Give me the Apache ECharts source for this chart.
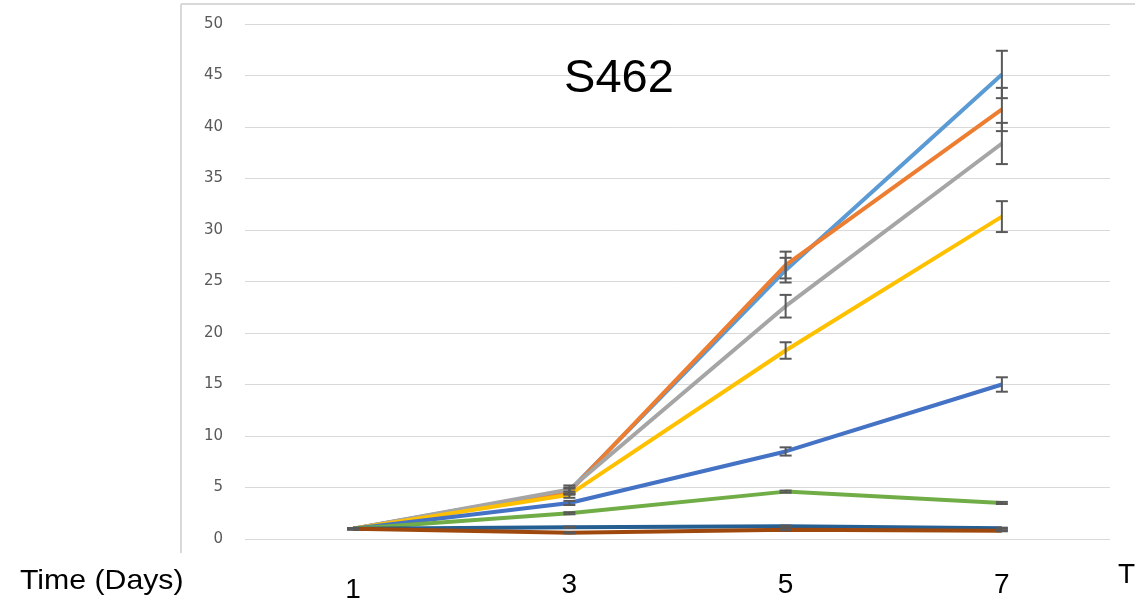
<!DOCTYPE html>
<html>
<head>
<meta charset="utf-8">
<script src="https://cdn.jsdelivr.net/npm/echarts@6/dist/echarts.min.js"></script>
<style>
html,body{margin:0;padding:0;background:#fff;}
#c{width:1135px;height:606px;}
</style>
</head>
<body>
<div id="c"></div>
<script>
const days = ['1', '3', '5', '7'];
const yTicks = [0, 5, 10, 15, 20, 25, 30, 35, 40, 45, 50];
const title = 'S462';
const xName = 'Time (Days)';

const lightBlue = [1, 4.7, 26.1, 45.1];
const lightBlueErr = [0.05, 0.3, 1.2, 2.3];
const orange = [1, 4.6, 26.6, 41.7];
const orangeErr = [0.05, 0.3, 1.3, 2.1];
const gray = [1, 4.8, 22.6, 38.4];
const grayErr = [0.05, 0.4, 1.1, 2.0];
const yellow = [1, 4.3, 18.3, 31.3];
const yellowErr = [0.05, 0.3, 0.8, 1.5];
const blue = [1, 3.5, 8.5, 15.0];
const blueErr = [0.05, 0.2, 0.4, 0.7];
const green = [1, 2.5, 4.6, 3.5];
const greenErr = [0.05, 0.1, 0.1, 0.1];
const darkBlue = [1, 1.15, 1.25, 1.05];
const darkBlueErr = [0.05, 0.05, 0.05, 0.05];
const brown = [1, 0.6, 0.9, 0.8];
const brownErr = [0.05, 0.05, 0.05, 0.05];

const seriesDefs = [
  {name: 'A', color: '#5B9BD5', values: lightBlue, errs: lightBlueErr},
  {name: 'B', color: '#ED7D31', values: orange, errs: orangeErr},
  {name: 'C', color: '#A5A5A5', values: gray, errs: grayErr},
  {name: 'D', color: '#FFC000', values: yellow, errs: yellowErr},
  {name: 'E', color: '#4472C4', values: blue, errs: blueErr},
  {name: 'F', color: '#70AD47', values: green, errs: greenErr},
  {name: 'G', color: '#255E91', values: darkBlue, errs: darkBlueErr},
  {name: 'H', color: '#9E480E', values: brown, errs: brownErr}
];

const series = [];
seriesDefs.forEach(function (d, i) {
  series.push({
    name: d.name,
    type: 'line',
    data: d.values,
    symbol: 'none',
    smooth: false,
    z: 2 + i * 0.01,
    lineStyle: {color: d.color, width: 4},
    itemStyle: {color: d.color},
    animation: false
  });
});
seriesDefs.forEach(function (d) {
  series.push({
    name: d.name + ' err',
    type: 'custom',
    z: 5,
    animation: false,
    data: d.values.map(function (v, k) { return [k, v, d.errs[k]]; }),
    renderItem: function (params, api) {
      const x = api.value(0), v = api.value(1), e = api.value(2);
      const hi = api.coord([x, v + e]);
      const lo = api.coord([x, v - e]);
      const hw = 6;
      const st = {stroke: '#595959', lineWidth: 2};
      return {
        type: 'group',
        children: [
          {type: 'line', shape: {x1: hi[0], y1: hi[1], x2: lo[0], y2: lo[1]}, style: st},
          {type: 'line', shape: {x1: hi[0] - hw, y1: hi[1], x2: hi[0] + hw, y2: hi[1]}, style: st},
          {type: 'line', shape: {x1: lo[0] - hw, y1: lo[1], x2: lo[0] + hw, y2: lo[1]}, style: st}
        ]
      };
    }
  });
});

const chart = echarts.init(document.getElementById('c'));
chart.setOption({
  backgroundColor: '#ffffff',
  animation: false,
  grid: {left: 245, right: 25, top: 24, bottom: 67, containLabel: false},
  title: {
    text: title,
    left: 614, top: 51, textAlign: 'center',
    textStyle: {fontFamily: 'Liberation Sans', fontSize: 47, fontWeight: 'normal', color: '#000000'}
  },
  xAxis: {
    type: 'category',
    data: days,
    boundaryGap: true,
    axisLine: {show: false},
    axisTick: {show: false},
    axisLabel: {
      margin: 32,
      fontFamily: 'Liberation Sans',
      fontSize: 28,
      color: '#000000',
      formatter: function (v) { return v === '1' ? '{low|' + v + '}' : v; },
      rich: {low: {fontFamily: 'Liberation Sans', fontSize: 28, color: '#000000', padding: [5, 0, 0, 0]}}
    },
    splitLine: {show: false}
  },
  yAxis: {
    type: 'value',
    min: yTicks[0],
    max: yTicks[yTicks.length - 1],
    interval: 5,
    axisLine: {show: false},
    axisTick: {show: false},
    axisLabel: {
      margin: 22,
      fontFamily: 'DejaVu Sans',
      fontSize: 15,
      color: '#595959'
    },
    splitLine: {show: true, lineStyle: {color: '#d9d9d9', width: 1}}
  },
  graphic: [
    {type: 'line', shape: {x1: 181, y1: 4, x2: 181, y2: 553}, style: {stroke: '#d9d9d9', lineWidth: 2}},
    {type: 'line', shape: {x1: 181, y1: 4, x2: 1135, y2: 4}, style: {stroke: '#d9d9d9', lineWidth: 2}},
    {type: 'text', x: 20, y: 567, scaleX: 1.08, style: {text: xName, font: '28px "Liberation Sans"', fill: '#000000'}},
    {type: 'text', x: 1118, y: 561, style: {text: 'T', font: '28px "Liberation Sans"', fill: '#000000'}}
  ],
  series: series
});
</script>
</body>
</html>
